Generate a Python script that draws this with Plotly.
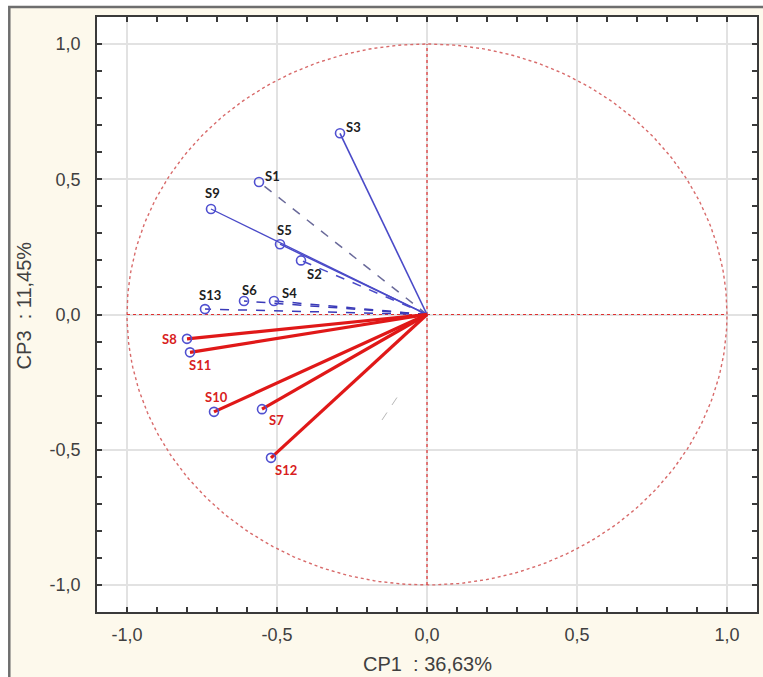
import numpy as np
import plotly.graph_objects as go

# Variable loadings on the first and third principal components
names = ["S1", "S2", "S3", "S4", "S5", "S6", "S7", "S8", "S9", "S10", "S11", "S12", "S13"]
cp1 = [-0.56, -0.42, -0.29, -0.51, -0.49, -0.61, -0.55, -0.80, -0.72, -0.71, -0.79, -0.52, -0.74]
cp3 = [0.49, 0.20, 0.67, 0.05, 0.26, 0.05, -0.35, -0.09, 0.39, -0.36, -0.14, -0.53, 0.02]
group = ["b", "b", "b", "b", "b", "b", "r", "r", "b", "r", "r", "r", "b"]

tick_vals = [-1.0, -0.5, 0.0, 0.5, 1.0]
tick_text = ["-1,0", "-0,5", "0,0", "0,5", "1,0"]

x_title = "CP1  : 36,63%"
y_title = "CP3  : 11,45%"

# Faint loading with a small contribution
faint_x = [-0.15, -0.09]
faint_y = [-0.39, -0.29]

# Line style per variable (colour, width, dash)
line_style = {
    "S1": ("#6a6a9a", 1.5, "dash"),
    "S2": ("#4a4ac8", 1.5, "dash"),
    "S3": ("#4a4ac8", 1.6, "solid"),
    "S4": ("#3a3ab8", 1.5, "dash"),
    "S5": ("#4a4ac8", 1.5, "solid"),
    "S6": ("#3a3ab8", 1.5, "dash"),
    "S9": ("#4a4ac8", 1.3, "solid"),
    "S13": ("#3a3ab8", 1.5, "dash"),
}
red_line = ("#e01818", 3.2, "solid")

# Label anchor offsets in pixels
label_pos = {
    "S1": (13, 6), "S2": (13, -14), "S3": (13, 6), "S4": (15, 8), "S5": (4, 14),
    "S6": (5, 11), "S7": (14, -11), "S8": (-18, 0), "S9": (1, 16), "S10": (2, 15),
    "S11": (10, -13), "S12": (15, -12), "S13": (5, 14),
}

fig = go.Figure()

# Unit correlation circle
t = np.linspace(0, 2 * np.pi, 400)
fig.add_trace(go.Scatter(x=np.cos(t), y=np.sin(t), mode="lines",
                         line=dict(color="#d86a6a", width=1.4, dash="dot"),
                         hoverinfo="skip", showlegend=False))
# Reference axes through the origin
fig.add_trace(go.Scatter(x=[-1, 1], y=[0, 0], mode="lines",
                         line=dict(color="#e03030", width=1.2, dash="dot"),
                         hoverinfo="skip", showlegend=False))
fig.add_trace(go.Scatter(x=[0, 0], y=[-1, 1], mode="lines",
                         line=dict(color="#e03030", width=1.2, dash="dot"),
                         hoverinfo="skip", showlegend=False))

fig.add_trace(go.Scatter(x=faint_x, y=faint_y, mode="lines",
                         line=dict(color="#9a9a9a", width=1, dash="dash"),
                         opacity=0.7, hoverinfo="skip", showlegend=False))

# Loading vectors: blue ones first, red ones on top
order = [i for i in range(len(names)) if group[i] == "b"] + \
        [i for i in range(len(names)) if group[i] == "r"]
for i in order:
    col, w, dash = line_style.get(names[i], red_line)
    fig.add_trace(go.Scatter(x=[0, cp1[i]], y=[0, cp3[i]], mode="lines",
                             line=dict(color=col, width=w, dash=dash),
                             hoverinfo="skip", showlegend=False))

# Variable markers
fig.add_trace(go.Scatter(x=cp1, y=cp3, mode="markers",
                         marker=dict(symbol="circle-open", size=9,
                                     color="#5050d0", line=dict(width=1.6, color="#5050d0")),
                         text=names, hoverinfo="text", showlegend=False))

for i, n in enumerate(names):
    dx, dy = label_pos[n]
    fig.add_annotation(x=cp1[i], y=cp3[i], text="<b>%s</b>" % n, showarrow=False,
                       xshift=dx, yshift=dy,
                       font=dict(family="Lato", size=13,
                                 color="#d82020" if group[i] == "r" else "#202020"))

axis_common = dict(
    range=[-1.1, 1.1], tickvals=tick_vals, ticktext=tick_text,
    showgrid=True, gridcolor="#e2e2e2", gridwidth=1.5,
    zeroline=False, showline=True, linecolor="#3a3a3a", linewidth=1.5,
    mirror="allticks", ticks="inside", ticklen=5, tickwidth=1.5, tickcolor="#3a3a3a",
    minor=dict(dtick=0.1, ticks="inside", ticklen=5, tickwidth=1.5,
               tickcolor="#3a3a3a", showgrid=False),
    tickfont=dict(family="Liberation Sans", size=18, color="#404040"),
    fixedrange=True,
)

fig.update_xaxes(**axis_common, ticklabelstandoff=6)
fig.update_yaxes(**axis_common, ticklabelstandoff=11)

# White surround outside the framed panel, then the panel border
fig.add_shape(type="rect", xref="paper", yref="paper",
              x0=-0.3, x1=-0.1329, y0=-0.3, y1=1.2,
              fillcolor="white", line=dict(width=0), layer="below")
fig.add_shape(type="rect", xref="paper", yref="paper",
              x0=-0.3, x1=1.1, y0=1.0168, y1=1.2,
              fillcolor="white", line=dict(width=0), layer="below")
fig.add_shape(type="rect", xref="paper", yref="paper",
              x0=-0.1329, x1=1.05, y0=-0.2, y1=1.0168,
              fillcolor="rgba(0,0,0,0)", line=dict(color="#6e6e6e", width=2.5),
              layer="below")

fig.add_annotation(xref="paper", yref="paper", x=0.5, y=-0.0874, yanchor="middle",
                   text=x_title, showarrow=False,
                   font=dict(family="Liberation Sans", size=20, color="#404040"))
fig.add_annotation(xref="paper", yref="paper", x=-0.110, y=0.516, xanchor="center",
                   yanchor="middle", textangle=-90, text=y_title, showarrow=False,
                   font=dict(family="Liberation Sans", size=20, color="#404040"))

fig.update_layout(
    width=763, height=677,
    margin=dict(l=97, r=4, t=17, b=65),
    paper_bgcolor="#fdf9ec", plot_bgcolor="white",
    showlegend=False,
)

fig.write_html("out.html")
